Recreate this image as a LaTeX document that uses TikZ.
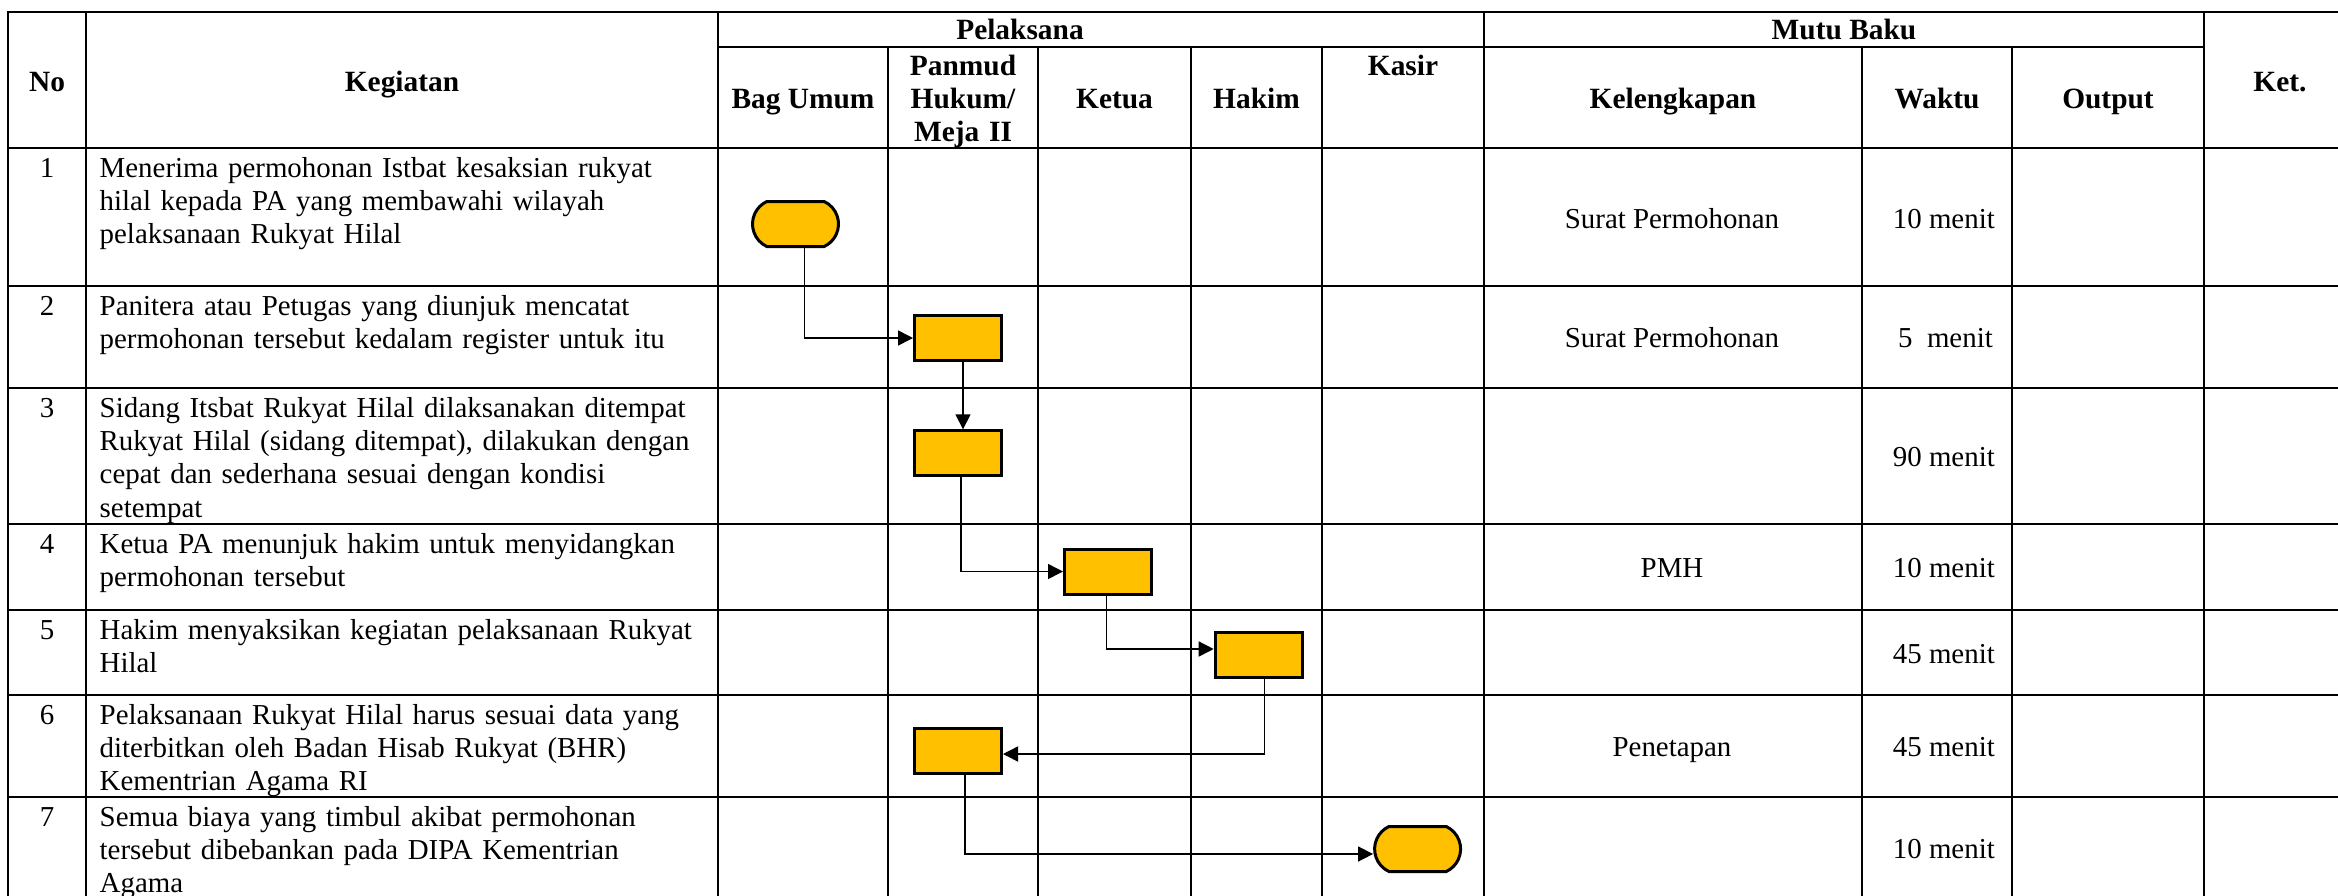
\documentclass[tikz,border=0pt]{standalone}
\usepackage{fontspec}
\setmainfont{Liberation Serif}
\usetikzlibrary{arrows.meta,shapes.misc}
\definecolor{gold}{HTML}{FFC000}
\newcommand\tfbody{\fontsize{28.9pt}{33.4pt}\selectfont}
\newcommand\tfhead{\fontsize{29.4pt}{33.4pt}\selectfont}
\begin{document}
\begin{tikzpicture}[x=1pt,y=-1pt,
  tl/.style={line width=2pt, line cap=rect},
  hd/.style={anchor=base, inner sep=0pt, font=\tfhead\bfseries},
  num/.style={anchor=base, inner sep=0pt, font=\tfbody},
  body/.style={anchor=north west, inner sep=0pt, text width=615pt, align=left, font=\tfbody},
  cell/.style={anchor=base, inner sep=0pt, font=\tfbody},
  wk/.style={anchor=base east, inner sep=0pt, font=\tfbody},
  boxstep/.style={draw=black, fill=gold, line width=3pt, minimum width=87pt, minimum height=45pt, inner sep=0pt},
  term/.style={rounded rectangle, rounded rectangle arc length=130, draw=black, fill=gold, line width=3pt, minimum width=86pt, minimum height=45pt, inner sep=0pt},
  conn/.style={line width=1.5pt, -{Triangle[length=15pt,width=15pt]}}
]
\useasboundingbox (0,0) rectangle (2338,895);
\fill[white] (0,0) rectangle (2338,895);
% horizontal lines
\foreach \yy in {12,148,286,388,524,610,695,797}
  \draw[tl] (7.5,\yy) -- (2338,\yy);
\draw[tl] (718,47) -- (2204,47);
% vertical lines
\foreach \xx in {7.5,86,718,1484,2204}
  \draw[tl] (\xx,12) -- (\xx,895);
\foreach \xx in {888,1038,1191,1322,1862,2012}
  \draw[tl] (\xx,47) -- (\xx,895);

% headers
\node[hd] (hNo) at (47,91) {No};
\node[hd] (hKeg) at (402,91) {Kegiatan};
\node[hd] (hPel) at (1020,39) {Pelaksana};
\node[hd] (hMutu) at (1844,39) {Mutu Baku};
\node[hd] (hKet) at (2280,91) {Ket.};
\node[hd] (hBag) at (803,108) {Bag Umum};
\node[hd, anchor=north, text width=148pt, align=center] (hPan) at (963,51.6) {\strut Panmud\\Hukum/\\Meja II};
\node[hd] (hKetua) at (1114.5,108) {Ketua};
\node[hd] (hHakim) at (1256.5,108) {Hakim};
\node[hd] (hKasir) at (1403,75) {Kasir};
\node[hd] (hKel) at (1673,108) {Kelengkapan};
\node[hd] (hWaktu) at (1937,108) {Waktu};
\node[hd] (hOut) at (2108,108) {Output};

% numbers
\node[num] (n1) at (47,177) {1};
\node[num] (n2) at (47,315) {2};
\node[num] (n3) at (47,417) {3};
\node[num] (n4) at (47,553) {4};
\node[num] (n5) at (47,639) {5};
\node[num] (n6) at (47,724) {6};
\node[num] (n7) at (47,826) {7};

% kegiatan
\node[body] (k1) at (99.5,153.6) {\strut Menerima permohonan Istbat kesaksian rukyat\\hilal kepada PA yang membawahi wilayah\\pelaksanaan Rukyat Hilal};
\node[body] (k2) at (99.5,291.6) {\strut Panitera atau Petugas yang diunjuk mencatat\\permohonan tersebut kedalam register untuk itu};
\node[body] (k3) at (99.5,393.6) {\strut Sidang Itsbat Rukyat Hilal dilaksanakan ditempat\\Rukyat Hilal (sidang ditempat), dilakukan dengan\\cepat dan sederhana sesuai dengan kondisi\\setempat};
\node[body] (k4) at (99.5,529.6) {\strut Ketua PA menunjuk hakim untuk menyidangkan\\permohonan tersebut};
\node[body] (k5) at (99.5,615.6) {\strut Hakim menyaksikan kegiatan pelaksanaan Rukyat\\Hilal};
\node[body] (k6) at (99.5,700.6) {\strut Pelaksanaan Rukyat Hilal harus sesuai data yang\\diterbitkan oleh Badan Hisab Rukyat (BHR)\\Kementrian Agama RI};
\node[body] (k7) at (99.5,802.6) {\strut Semua biaya yang timbul akibat permohonan\\tersebut dibebankan pada DIPA Kementrian\\Agama};

% kelengkapan
\node[cell] (l1) at (1672,228) {Surat Permohonan};
\node[cell] (l2) at (1672,347.5) {Surat Permohonan};
\node[cell] (l4) at (1672,577.5) {PMH};
\node[cell] (l6) at (1672,756.5) {Penetapan};

% waktu
\node[wk] (w1) at (1995,228) {10 menit};
\node[wk] (w2) at (1993,347.5) {5\ \ menit};
\node[wk] (w3) at (1995,466.5) {90 menit};
\node[wk] (w4) at (1995,577.5) {10 menit};
\node[wk] (w5) at (1995,663) {45 menit};
\node[wk] (w6) at (1995,756.5) {45 menit};
\node[wk] (w7) at (1995,858.5) {10 menit};

% flow shapes
\node[term] (t1) at (795.5,224) {};
\node[boxstep] (b2) at (958,338) {};
\node[boxstep] (b3) at (958,453.3) {};
\node[boxstep] (b4) at (1108,571.5) {};
\node[boxstep] (b5) at (1258.7,655) {};
\node[boxstep] (b6) at (958,750.5) {};
\node[term] (t7) at (1417.6,849) {};

% connectors
\draw[conn] ([xshift=9pt]t1.south) |- (b2.west);
\draw[conn] ([xshift=5pt]b2.south) -- ([xshift=5pt]b3.north);
\draw[conn] ([xshift=3pt]b3.south) |- (b4.west);
\draw[conn] ([xshift=-1.5pt]b4.south) |- ([yshift=6pt]b5.west);
\draw[conn] ([xshift=6pt]b5.south) |- ([yshift=-3.5pt]b6.east);
\draw[conn] ([xshift=7pt]b6.south) |- ([yshift=-5pt]t7.west);
\end{tikzpicture}
\end{document}
